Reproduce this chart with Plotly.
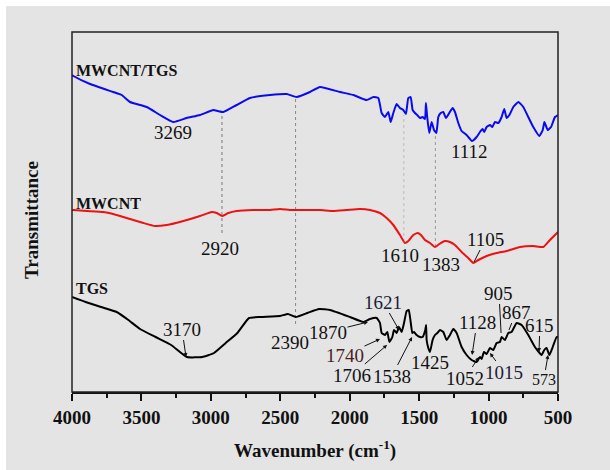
import plotly.graph_objects as go

# ---------------- data ----------------
# MWCNT/TGS (blue)
wn_mt = [4000, 3990, 3870, 3703, 3642, 3582, 3462, 3366, 3270, 3174, 3078, 2982, 2950, 2910,
         2814, 2718, 2574, 2454, 2382, 2286, 2214, 2070, 1974, 1878, 1830, 1794, 1770, 1746,
         1722, 1705, 1686, 1662, 1638, 1614, 1595, 1578, 1561, 1547, 1530, 1514, 1494, 1475,
         1458, 1451, 1442, 1427, 1410, 1393, 1376, 1362, 1345, 1326, 1307, 1283, 1259, 1242,
         1218, 1194, 1158, 1120, 1086, 1062, 1043, 1031, 1014, 990, 973, 954, 930, 906, 887,
         870, 850, 822, 786, 750, 714, 678, 634, 610, 598, 574, 550, 522, 500]
t_mt = [317, 316, 308, 300, 297, 290, 285, 277, 270, 274, 277, 282, 281, 280,
        287, 294, 297, 298, 295, 300, 305, 300, 297, 292, 295, 294, 279, 275,
        280, 270, 279, 288, 284, 282, 278, 294, 295, 282, 279, 277, 274, 275,
        273, 289, 275, 259, 270, 262, 259, 275, 279, 280, 274, 279, 284, 280,
        269, 261, 257, 251, 255, 260, 263, 260, 265, 267, 265, 270, 269, 275, 283,
        274, 277, 285, 290, 285, 275, 265, 256, 262, 270, 262, 265, 275, 277]

# MWCNT (red)
wn_m = [4000, 3990, 3894, 3774, 3703, 3582, 3486, 3402, 3318, 3198, 3078, 2994, 2958, 2918,
        2874, 2814, 2694, 2574, 2502, 2430, 2334, 2214, 2118, 2022, 1926, 1854, 1782, 1734,
        1686, 1638, 1602, 1578, 1542, 1511, 1487, 1458, 1422, 1386, 1355, 1314, 1278, 1242,
        1194, 1146, 1110, 1074, 1014, 942, 870, 774, 678, 606, 558, 500]
t_m = [182, 182, 181, 180, 178, 173, 169, 166, 167, 171, 176, 180, 179, 176,
       179, 181, 182, 182, 183, 182, 182, 182, 181, 182, 183, 182, 179, 174,
       167, 157, 149, 151, 157, 159, 157, 152, 149, 145, 148, 151, 150, 147,
       140, 134, 129, 132, 136, 139, 141, 145, 146, 145, 152, 160]

# TGS (black)
wn_t = [4000, 3902, 3791, 3678, 3594, 3510, 3398, 3286, 3173, 3062, 2977, 2893, 2809, 2725,
        2640, 2501, 2445, 2389, 2305, 2221, 2142, 1998, 1902, 1854, 1806, 1782, 1770, 1746,
        1729, 1714, 1693, 1681, 1662, 1645, 1626, 1609, 1590, 1575, 1561, 1549, 1537, 1518,
        1494, 1475, 1456, 1450, 1446, 1434, 1422, 1403, 1386, 1369, 1350, 1326, 1302, 1278,
        1254, 1230, 1194, 1158, 1122, 1086, 1062, 1050, 1033, 1014, 990, 966, 942, 918, 906,
        882, 858, 834, 798, 762, 714, 666, 618, 599, 582, 562, 538, 510, 500]
t_t = [95, 90, 85, 80, 72, 63, 55, 47, 35, 35, 39, 49, 59, 74,
       75, 76, 78, 75, 79, 83, 82, 75, 70, 73, 74, 69, 59, 57,
       60, 50, 55, 62, 59, 65, 60, 69, 81, 82, 70, 59, 60, 57,
       55, 55, 62, 67, 52, 44, 40, 52, 57, 59, 62, 60, 52, 57,
       63, 59, 45, 37, 32, 30, 35, 33, 40, 38, 44, 42, 49, 50, 55,
       52, 59, 60, 69, 67, 57, 45, 37, 42, 44, 37, 45, 55, 55]

# series name labels
series_names = ["MWCNT/TGS", "MWCNT", "TGS"]
series_label_wn = [3986, 3986, 3986]
series_label_t = [322, 189, 104]

# peak labels without arrows: text, label position
plain_text = ["3269", "1112", "2920", "1610", "1383", "2390", "1425"]
plain_wn = [3273, 1134, 2934, 1638, 1343, 2430, 1422]
plain_t = [260, 241, 144, 137, 128, 50, 30]

# peak labels with arrows / leader lines: text, label pos, pointed pos, head style, size, colour
arr_text = ["1105", "3170", "1870", "1621", "1740", "1706", "1538", "1128", "1052", "1015",
            "905", "867", "615", "573"]
arr_lab_wn = [1021, 3208, 2156, 1760, 2034, 1984, 1696, 1083, 1170, 889, 925, 802, 630, 601]
arr_lab_t = [153, 63, 60, 90, 37, 17, 16, 70, 14, 20, 99, 80, 67, 13]
arr_pt_wn = [1105, 3179, 1868, 1645, 1782, 1731, 1551, 1119, 1069, 990, 910, 853, 637, 572]
arr_pt_t = [130, 35, 70, 62, 53, 47, 55, 37, 35, 39, 59, 62, 40, 37]
arr_head = [0, 2, 2, 2, 2, 2, 2, 2, 2, 2, 0, 0, 2, 2]
arr_size = [19, 19, 19, 19, 19, 19, 19, 19, 19, 19, 19, 19, 19, 16]
arr_color = ["#111", "#111", "#111", "#1c1c3a", "#4a1f1f", "#111", "#111", "#111", "#111",
             "#1c1c3a", "#111", "#111", "#111", "#111"]

# dotted guide lines
vline_wn = [2920, 2390, 1610, 1383]
vline_top = [280, 295, 277, 259]
vline_bot = [159, 68, 150, 145]
vline_col = ["#777", "#888", "#bbb", "#999"]

x_ticks = [4000, 3500, 3000, 2500, 2000, 1500, 1000, 500]

FONT = "Liberation Serif"
GREY = "#e4e4e4"

fig = go.Figure()
for wn, t, c in [(wn_mt, t_mt, "#0a0af0"), (wn_m, t_m, "#ee1111"), (wn_t, t_t, "#000000")]:
    fig.add_trace(go.Scatter(x=wn, y=t, mode="lines",
                             line=dict(color=c, width=2, shape="spline", smoothing=0.4),
                             showlegend=False, hoverinfo="skip"))

ann = []
for s, x, y in zip(series_names, series_label_wn, series_label_t):
    ann.append(dict(x=x, y=y, xref="x", yref="y", text="<b>%s</b>" % s, showarrow=False,
                    xanchor="left", yanchor="middle",
                    font=dict(family=FONT, size=16, color="#111")))
for s, x, y in zip(plain_text, plain_wn, plain_t):
    ann.append(dict(x=x, y=y, xref="x", yref="y", text=s, showarrow=False,
                    xanchor="center", yanchor="middle",
                    font=dict(family=FONT, size=19, color="#111")))
for s, lx, ly, px, py, h, sz, c in zip(arr_text, arr_lab_wn, arr_lab_t, arr_pt_wn, arr_pt_t,
                                       arr_head, arr_size, arr_color):
    ann.append(dict(x=px, y=py, xref="x", yref="y", ax=lx, ay=ly, axref="x", ayref="y",
                    text=s, showarrow=True, arrowhead=h, arrowsize=0.8, arrowwidth=1,
                    arrowcolor="#111", standoff=0, borderpad=0,
                    font=dict(family=FONT, size=sz, color=c)))
# axis titles
ann.append(dict(x=-0.0823, y=0.478, xref="paper", yref="paper", text="<b>Transmittance</b>",
                textangle=-90, showarrow=False, xanchor="center", yanchor="middle",
                font=dict(family=FONT, size=19, color="#111")))
ann.append(dict(x=0.5, y=-0.161, xref="paper", yref="paper",
                text="<b>Wavenumber (cm<sup>-1</sup>)</b>", showarrow=False,
                xanchor="center", yanchor="middle",
                font=dict(family=FONT, size=19, color="#111")))

shapes = []
for w, a, b, c in zip(vline_wn, vline_top, vline_bot, vline_col):
    shapes.append(dict(type="line", xref="x", yref="y", x0=w, x1=w, y0=b, y1=a,
                       line=dict(color=c, width=1, dash="dot"), layer="below"))
# frame
shapes.append(dict(type="rect", xref="paper", yref="paper", x0=0, x1=1, y0=0, y1=1,
                   line=dict(color="#222", width=1.5)))
# white strips at top and left edges of the picture
shapes.append(dict(type="rect", xref="paper", yref="paper", x0=-0.2, x1=1.2, y0=1.0722, y1=1.2,
                   fillcolor="white", line=dict(width=0), layer="below"))
shapes.append(dict(type="rect", xref="paper", yref="paper", x0=-0.2, x1=-0.1358, y0=-0.3, y1=1.2,
                   fillcolor="white", line=dict(width=0), layer="below"))

fig.update_layout(
    width=610, height=470,
    margin=dict(l=72, r=52, t=32, b=78),
    paper_bgcolor=GREY, plot_bgcolor=GREY,
    annotations=ann, shapes=shapes,
    xaxis=dict(range=[4000, 500], tickvals=x_ticks, ticktext=[str(v) for v in x_ticks],
               ticks="outside", ticklen=7, tickwidth=1.5, tickcolor="#111",
               minor=dict(dtick=250, ticks="outside", ticklen=4, tickwidth=1.5, tickcolor="#111"),
               showline=True, linewidth=2, linecolor="#111", showgrid=False, zeroline=False,
               tickfont=dict(family=FONT, size=19, color="#111", weight="bold")),
    yaxis=dict(range=[0, 360], showticklabels=False, ticks="", showgrid=False,
               zeroline=False, showline=False),
)

fig.write_html("out.html")
